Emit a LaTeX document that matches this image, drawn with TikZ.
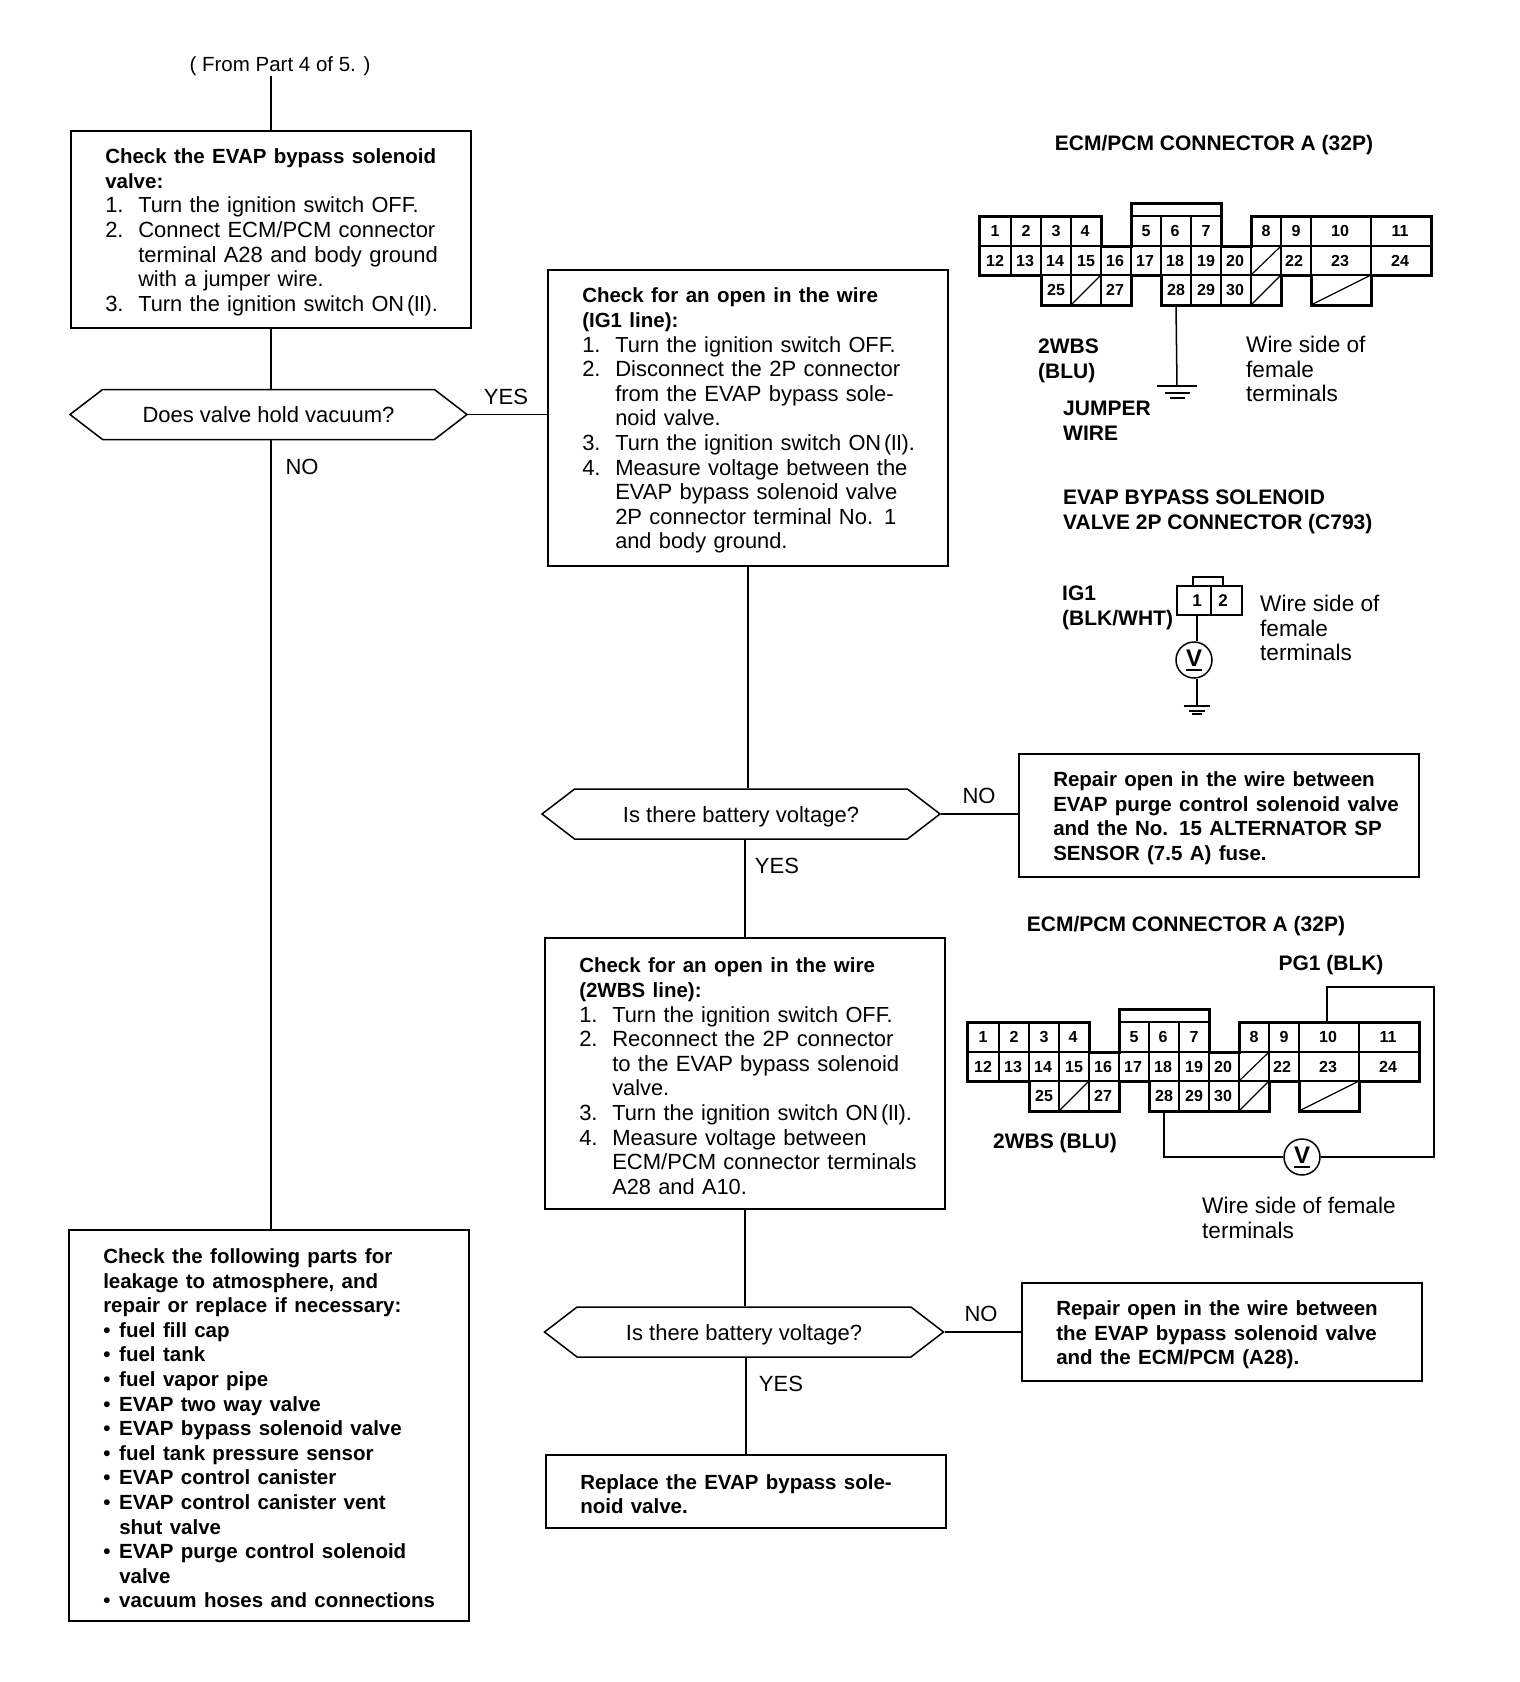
\documentclass[tikz,border=0pt]{standalone}
\usepackage{fontspec}
\setmainfont{Liberation Sans}
\usetikzlibrary{shapes.symbols}
\def\nt{\fontsize{22}{24.6}\selectfont}
\def\lt{\fontsize{22.6}{24.8}\selectfont}
\def\bt{\fontsize{21}{24.8}\selectfont\bfseries}
\def\bx{\fontsize{20.5}{24.6}\selectfont\bfseries}
\def\nr#1{\makebox[33pt][l]{#1}}
\def\bu{\makebox[16pt][l]{\textbullet}}
\def\ln#1{\mbox{\fontsize{21.8}{24.6}\selectfont#1}}
\def\js#1{\makebox[298pt][s]{#1}}
\def\bb#1{{\bx\makebox[331pt][s]{#1}}}
\def\bs#1{{\bx\makebox[315pt][s]{#1}}}
\def\bl#1{{\bx\mbox{#1}}}
\def\onii{ON\hspace{3pt}(\kern-.7pt I\kern-.7pt I\kern-.7pt).}
\def\vsym{\vbox{\hbox{V}\kern2.5pt\hrule height 2pt}}
\tikzset{
	every node/.style={inner sep=0pt},
	stepbox/.style={draw, line width=1.5pt, anchor=north west, text width=331pt, inner xsep=34.5pt, align=left, font=\nt, execute at begin node={\leavevmode\rule{0pt}{21pt}\ignorespaces}},
	askbox/.style={draw, line width=1.5pt, shape=signal, signal to=east and west, signal pointer angle=75, minimum height=50pt, text height=16pt, text depth=0pt, font=\nt},
	lbl/.style={anchor=west, align=left, font=\lt},
	blbl/.style={anchor=west, align=left, font=\bt},
	flow/.style={line width=1.5pt},
	conn/.style={line width=3pt, line join=miter},
	cell/.style={line width=1.2pt},
	pin/.style={font=\fontsize{16}{16}\selectfont\bfseries},
	vmeter/.style={draw, circle, line width=1.5pt, minimum size=36pt, fill=white, font=\fontsize{24}{24}\selectfont\bfseries},
	gnd/.pic={
		\draw[line width=1.6pt] (-20,0) -- (20,0);
		\draw[line width=1.6pt] (-12.5,7) -- (12.5,7);
		\draw[line width=1.6pt] (-7.5,12) -- (7.5,12);
	},
	ecm/.pic={
		\draw[conn] (0,0) -- (122,0) -- (122,30) -- (152,30) -- (152,-13) -- (242,-13) -- (242,30) -- (272,30) -- (272,0) -- (452,0) -- (452,59) -- (392,59) -- (392,89) -- (332,89) -- (332,59) -- (302,59) -- (302,89) -- (182,89) -- (182,59) -- (152,59) -- (152,89) -- (62,89) -- (62,59) -- (0,59) -- cycle;
		\draw[line width=2pt] (0,30) -- (452,30);
		\draw[line width=2pt] (0,59) -- (452,59);
		\draw[line width=2pt] (152,0) -- (242,0);
		\foreach \x in {32,62,92,182,212,302,332,392} \draw[cell] (\x,0) -- (\x,30);
		\foreach \x in {32,62,92,122,152,182,212,242,272,302,332,392} \draw[cell] (\x,30) -- (\x,59);
		\foreach \x in {92,122,212,242,272} \draw[cell] (\x,59) -- (\x,89);
		\draw[cell] (272,59) -- (302,30);
		\draw[cell] (92,89) -- (122,59);
		\draw[cell] (272,89) -- (302,59);
		\draw[cell] (332,89) -- (392,59);
		\foreach \n/\x/\y in {1/16/15,2/47/15,3/77/15,4/106/15,5/167/15,6/196/15,7/227/15,8/287/15,9/317/15,10/361/15,11/421/15,
			12/16/45,13/46/45,14/76/45,15/107/45,16/136/45,17/166/45,18/196/45,19/227/45,20/256/45,22/315/45,23/361/45,24/421/45,
			25/77/74,27/136/74,28/197/74,29/227/74,30/256/74}
			\node[pin] (-p\n) at (\x,\y) {\n};
		\coordinate (-w28) at (197,89);
		\coordinate (-w10) at (360,0);
	}
}
\begin{document}
\begin{tikzpicture}[x=1pt, y=-1pt]
	\useasboundingbox (0,0) rectangle (1520,1682);
	%%%%% START %%%%%

	% left column
	\node[font=\fontsize{20.5}{24}\selectfont] (from) at (280,66) {( From Part 4 of 5. )};
	\node[stepbox, minimum height=197pt] (evapcheck) at (70,130) {
		\bb{Check the EVAP bypass solenoid}\\
		\bl{valve:}\\
		\nr{1.}\ln{Turn the ignition switch OFF.}\\
		\nr{2.}\js{Connect ECM/PCM connector}\\
		\nr{}\js{terminal A28 and body ground}\\
		\nr{}\ln{with a jumper wire.}\\
		\nr{3.}\ln{Turn the ignition switch \onii}};
	\node[askbox, minimum width=397pt] (holdask) at (268.5,414.5) {Does valve hold vacuum?};
	\node[stepbox, minimum height=391pt] (leakcheck) at (68,1229) {
		\bb{Check the following parts for}\\
		\bb{leakage to atmosphere, and}\\
		\bb{repair or replace if necessary:}\\
		\bl{\bu fuel fill cap}\\
		\bl{\bu fuel tank}\\
		\bl{\bu fuel vapor pipe}\\
		\bl{\bu EVAP two way valve}\\
		\bl{\bu EVAP bypass solenoid valve}\\
		\bl{\bu fuel tank pressure sensor}\\
		\bl{\bu EVAP control canister}\\
		\bl{\bu}\bs{EVAP control canister vent}\\
		\bl{\hspace*{16pt}shut valve}\\
		\bl{\bu}\bs{EVAP purge control solenoid}\\
		\bl{\hspace*{16pt}valve}\\
		\bl{\bu vacuum hoses and connections}};

	% middle column
	\node[stepbox, minimum height=296pt] (igcheck) at (547,269) {
		\bb{Check for an open in the wire}\\
		\bl{(IG1 line):}\\
		\nr{1.}\ln{Turn the ignition switch OFF.}\\
		\nr{2.}\js{Disconnect the 2P connector}\\
		\nr{}\js{from the EVAP bypass sole-}\\
		\nr{}\ln{noid valve.}\\
		\nr{3.}\ln{Turn the ignition switch \onii}\\
		\nr{4.}\js{Measure voltage between the}\\
		\nr{}\js{EVAP bypass solenoid valve}\\
		\nr{}\js{2P connector terminal No. 1}\\
		\nr{}\ln{and body ground.}};
	\node[askbox, minimum width=398pt] (battaskA) at (741,814) {Is there battery voltage?};
	\node[stepbox, minimum height=271pt] (wbscheck) at (544,937) {
		\bb{Check for an open in the wire}\\
		\bl{(2WBS line):}\\
		\nr{1.}\ln{Turn the ignition switch OFF.}\\
		\nr{2.}\js{Reconnect the 2P connector}\\
		\nr{}\js{to the EVAP bypass solenoid}\\
		\nr{}\ln{valve.}\\
		\nr{3.}\ln{Turn the ignition switch \onii}\\
		\nr{4.}\js{Measure voltage between}\\
		\nr{}\js{ECM/PCM connector terminals}\\
		\nr{}\ln{A28 and A10.}};
	\node[askbox, minimum width=399pt] (battaskB) at (744,1332) {Is there battery voltage?};
	\node[stepbox, minimum height=73pt] (replace) at (545,1454) {
		\bb{Replace the EVAP bypass sole-}\\
		\bl{noid valve.}};

	% repair boxes
	\node[stepbox, minimum height=123pt] (repairA) at (1018,753) {
		\bb{Repair open in the wire between}\\
		\bb{EVAP purge control solenoid valve}\\
		\bb{and the No. 15 ALTERNATOR SP}\\
		\bl{SENSOR (7.5 A) fuse.}};
	\node[stepbox, minimum height=98pt] (repairB) at (1021,1282) {
		\bb{Repair open in the wire between}\\
		\bb{the EVAP bypass solenoid valve}\\
		\bl{and the ECM/PCM (A28).}};

	% flow lines
	\draw[flow] (from.south -| evapcheck.north) -- (evapcheck.north);
	\draw[flow] (evapcheck.south) -- (evapcheck.south |- holdask.north);
	\draw[flow] (evapcheck.south |- holdask.south) -- (evapcheck.south |- leakcheck.north);
	\draw[flow] (holdask.east) -- (igcheck.west |- holdask.east);
	\draw[flow] (igcheck.south) -- (igcheck.south |- battaskA.north);
	\draw[flow] (battaskA.east) -- (repairA.west |- battaskA.east);
	\draw[flow] (wbscheck.north) -- (wbscheck.north |- battaskA.south);
	\draw[flow] (wbscheck.south) -- (wbscheck.south |- battaskB.north);
	\draw[flow] (battaskB.east) -- (repairB.west |- battaskB.east);
	\draw[flow] (replace.north) -- (replace.north |- battaskB.south);

	\node[font=\nt] (yesA) at (506,397) {YES};
	\node[font=\nt] (noA) at (302,467) {NO};
	\node[font=\nt] (noB) at (979,796) {NO};
	\node[font=\nt] (yesB) at (777,866) {YES};
	\node[font=\nt] (noC) at (981,1314) {NO};
	\node[font=\nt] (yesC) at (781,1384) {YES};

	% first ECM/PCM connector
	\node[font=\bt] (ecmtitleA) at (1214,145) {ECM/PCM CONNECTOR A (32P)};
	\pic (ecmA) at (979,216) {ecm};
	\coordinate (gndA) at (1177,386);
	\draw[flow] (ecmA-w28) -- (gndA);
	\pic at (gndA) {gnd};
	\node[blbl] (wbsA) at (1038,360.5) {2WBS\\(BLU)};
	\node[blbl] (jumper) at (1063,420.5) {JUMPER\\WIRE};
	\node[lbl] (wireA) at (1246,369) {Wire side of\\female\\terminals};

	% 2P connector
	\node[blbl] (soltitle) at (1063,512) {EVAP BYPASS SOLENOID\\VALVE 2P CONNECTOR (C793)};
	\draw[line width=2.5pt] (1177,586) rectangle (1242,615);
	\draw[line width=2pt] (1193,586) -- (1193,577) -- (1223,577) -- (1223,586);
	\draw[cell] (1211,586) -- (1211,615);
	\node[pin, font=\fontsize{17}{17}\selectfont\bfseries] (sol1) at (1197,600.5) {1};
	\node[pin, font=\fontsize{17}{17}\selectfont\bfseries] (sol2) at (1223,600.5) {2};
	\node[blbl] (ig) at (1062,607.5) {IG1\\(BLK/WHT)};
	\node[lbl] (wireB) at (1260,628) {Wire side of\\female\\terminals};
	\node[vmeter] (vmA) at (1194,660) {\vsym};
	\coordinate (solbot) at (1197,615);
	\coordinate (gndB) at (1197,706);
	\draw[flow] (solbot) -- (solbot |- vmA.north);
	\draw[flow] (solbot |- vmA.south) -- (gndB);
	\pic[scale=.67] at (gndB) {gnd};

	% second ECM/PCM connector
	\node[font=\bt] (ecmtitleB) at (1186,926) {ECM/PCM CONNECTOR A (32P)};
	\node[font=\bt] (pgl) at (1331,965) {PG1 (BLK)};
	\pic (ecmB) at (967,1022) {ecm};
	\node[font=\bt] (wbsB) at (1055,1143.5) {2WBS (BLU)};
	\node[vmeter] (vmB) at (1302,1157) {\vsym};
	\coordinate (turnA) at (1434,987);
	\draw[flow] (ecmB-w28) |- (vmB);
	\draw[flow] (vmB) -| (turnA) -| (ecmB-w10);
	\node[lbl] (wireC) at (1202,1218) {Wire side of female\\terminals};

	%%%%% END %%%%%
\end{tikzpicture}
\end{document}
